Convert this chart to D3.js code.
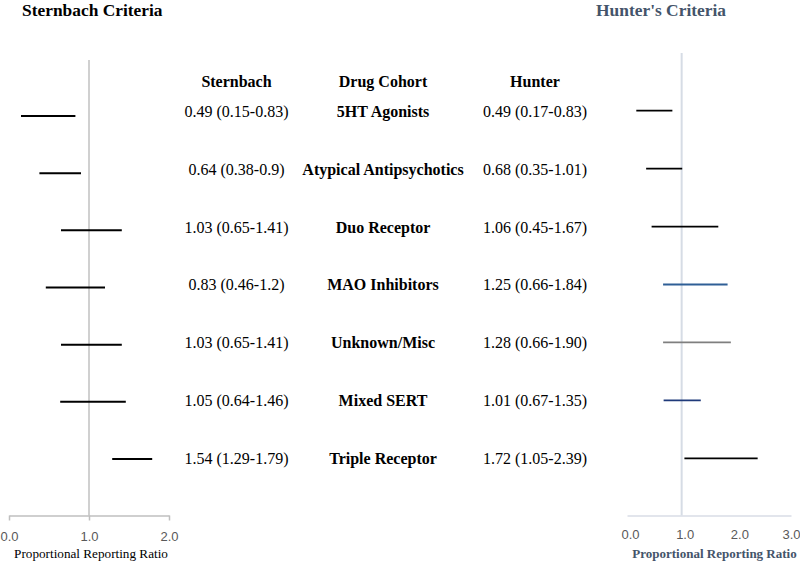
<!DOCTYPE html>
<html>
<head>
<meta charset="utf-8">
<script src="https://cdn.jsdelivr.net/npm/d3@7"></script>
<style>
  body { margin: 0; background: #fff; }
  svg { display: block; }
  text.serif { font-family: "Liberation Serif", "DejaVu Serif", "Times New Roman", serif; }
</style>
</head>
<body>
<div id="chart"></div>
<script>
  // drug cohorts, top to bottom
  var cohorts = ['5HT Agonists', 'Atypical Antipsychotics', 'Duo Receptor', 'MAO Inhibitors',
    'Unknown/Misc', 'Mixed SERT', 'Triple Receptor'];

  // Sternbach criteria PRR with 95% CI
  var sternPrr = [0.49, 0.64, 1.03, 0.83, 1.03, 1.05, 1.54];
  var sternLow = [0.15, 0.38, 0.65, 0.46, 0.65, 0.64, 1.29];
  var sternHigh = [0.83, 0.9, 1.41, 1.2, 1.41, 1.46, 1.79];
  var sternText = ['0.49 (0.15-0.83)', '0.64 (0.38-0.9)', '1.03 (0.65-1.41)', '0.83 (0.46-1.2)',
    '1.03 (0.65-1.41)', '1.05 (0.64-1.46)', '1.54 (1.29-1.79)'];

  // Hunter criteria PRR with 95% CI
  var hunterPrr = [0.49, 0.68, 1.06, 1.25, 1.28, 1.01, 1.72];
  var hunterLow = [0.17, 0.35, 0.45, 0.66, 0.66, 0.67, 1.05];
  var hunterHigh = [0.83, 1.01, 1.67, 1.84, 1.90, 1.35, 2.39];
  var hunterText = ['0.49 (0.17-0.83)', '0.68 (0.35-1.01)', '1.06 (0.45-1.67)', '1.25 (0.66-1.84)',
    '1.28 (0.66-1.90)', '1.01 (0.67-1.35)', '1.72 (1.05-2.39)'];
  var hunterColors = ['#000000', '#000000', '#000000', '#2f5f96', '#7f7f7f', '#1f3a7a', '#000000'];

  var sternTicks = [0, 1, 2];
  var hunterTicks = [0, 1, 2, 3];

  var width = 800, height = 563;
  var serif = '"Liberation Serif", "DejaVu Serif", "Times New Roman", serif';
  var svg = d3.select('#chart').append('svg')
    .attr('width', width)
    .attr('height', height);

  // scales
  var xStern = d3.scaleLinear().domain([0, 2]).range([9, 169]);
  var xHunter = d3.scaleLinear().domain([0, 3]).range([627, 791]);
  var yStern = d3.scalePoint().domain(cohorts).range([116, 459]);
  var yHunter = d3.scalePoint().domain(cohorts).range([110.7, 458.3]);
  var yText = d3.scalePoint().domain(cohorts).range([111.7, 458]);
  var axisY = 515.5;

  // titles
  svg.append('text')
    .attr('x', 22).attr('y', 16)
    .style('font-family', serif)
    .style('font-size', '17.4px').style('font-weight', 'bold')
    .text('Sternbach Criteria');

  svg.append('text')
    .attr('x', 726).attr('y', 16)
    .attr('text-anchor', 'end')
    .style('font-family', serif)
    .style('font-size', '17.4px').style('font-weight', 'bold')
    .style('fill', '#44546a')
    .text("Hunter's Criteria");

  // reference lines at PRR = 1
  svg.append('line')
    .attr('x1', xStern(1)).attr('x2', xStern(1))
    .attr('y1', 60).attr('y2', axisY)
    .style('stroke', '#c0c0c0').style('stroke-width', 1.5);

  svg.append('line')
    .attr('x1', xHunter(1)).attr('x2', xHunter(1))
    .attr('y1', 53).attr('y2', axisY)
    .style('stroke', '#d6dce5').style('stroke-width', 2);

  // left axis
  var gStern = svg.append('g')
    .attr('transform', 'translate(0,' + axisY + ')')
    .call(d3.axisBottom(xStern).tickValues(sternTicks).tickSize(5).tickSizeOuter(0)
      .tickFormat(d3.format('.1f')));
  gStern.select('.domain').style('stroke', '#bfbfbf').style('stroke-width', 1.5);
  gStern.selectAll('.tick line').style('stroke', '#bfbfbf').style('stroke-width', 1.5);
  gStern.selectAll('.tick text')
    .attr('dy', null).attr('y', 25)
    .style('font-family', '"Liberation Sans", Arial, sans-serif')
    .style('font-size', '13px').style('fill', '#595959');

  // right axis
  var gHunter = svg.append('g')
    .attr('transform', 'translate(0,' + axisY + ')')
    .call(d3.axisBottom(xHunter).tickValues(hunterTicks).tickSize(0).tickSizeOuter(0)
      .tickFormat(d3.format('.1f')));
  gHunter.select('.domain').style('stroke', '#d9dde6').style('stroke-width', 1.5);
  gHunter.selectAll('.tick text')
    .attr('dy', null).attr('y', 23)
    .attr('dx', function(d) { return d === 3 ? 0 : 3; })
    .style('font-family', '"Liberation Sans", Arial, sans-serif')
    .style('font-size', '13px').style('fill', '#595959');

  // axis titles
  svg.append('text')
    .attr('x', 91).attr('y', 557.5)
    .attr('text-anchor', 'middle')
    .style('font-family', serif)
    .style('font-size', '13.2px')
    .text('Proportional Reporting Ratio');

  svg.append('text')
    .attr('x', 714.5).attr('y', 557.5)
    .attr('text-anchor', 'middle')
    .style('font-family', serif)
    .style('font-size', '13px').style('font-weight', 'bold')
    .style('fill', '#44546a')
    .text('Proportional Reporting Ratio');

  // confidence interval lines
  svg.append('g').selectAll('line')
    .data(cohorts)
    .enter()
    .append('line')
    .attr('x1', function(d, i) { return xStern(sternLow[i]); })
    .attr('x2', function(d, i) { return xStern(sternHigh[i]); })
    .attr('y1', function(d) { return yStern(d); })
    .attr('y2', function(d) { return yStern(d); })
    .style('stroke', '#000').style('stroke-width', 2);

  svg.append('g').selectAll('line')
    .data(cohorts)
    .enter()
    .append('line')
    .attr('x1', function(d, i) { return xHunter(hunterLow[i]); })
    .attr('x2', function(d, i) { return xHunter(hunterHigh[i]); })
    .attr('y1', function(d) { return yHunter(d); })
    .attr('y2', function(d) { return yHunter(d); })
    .style('stroke', function(d, i) { return hunterColors[i]; })
    .style('stroke-width', 1.8);

  // table headers
  var headers = [['Sternbach', 236.5], ['Drug Cohort', 383], ['Hunter', 535]];
  svg.append('g').selectAll('text')
    .data(headers)
    .enter()
    .append('text')
    .attr('x', function(d) { return d[1]; })
    .attr('y', 87)
    .attr('text-anchor', 'middle')
    .style('font-family', serif)
    .style('font-size', '16px').style('font-weight', 'bold')
    .text(function(d) { return d[0]; });

  // table rows
  var rows = svg.append('g').selectAll('g')
    .data(cohorts)
    .enter()
    .append('g')
    .attr('transform', function(d) { return 'translate(0,' + (yText(d) + 5.5) + ')'; });

  rows.append('text')
    .attr('x', 236.5).attr('text-anchor', 'middle')
    .style('font-family', serif)
    .style('font-size', '16px')
    .text(function(d, i) { return sternText[i]; });

  rows.append('text')
    .attr('x', 383).attr('text-anchor', 'middle')
    .style('font-family', serif)
    .style('font-size', '16px').style('font-weight', 'bold')
    .text(function(d) { return d; });

  rows.append('text')
    .attr('x', 535).attr('text-anchor', 'middle')
    .style('font-family', serif)
    .style('font-size', '16px')
    .text(function(d, i) { return hunterText[i]; });
</script>
</body>
</html>
